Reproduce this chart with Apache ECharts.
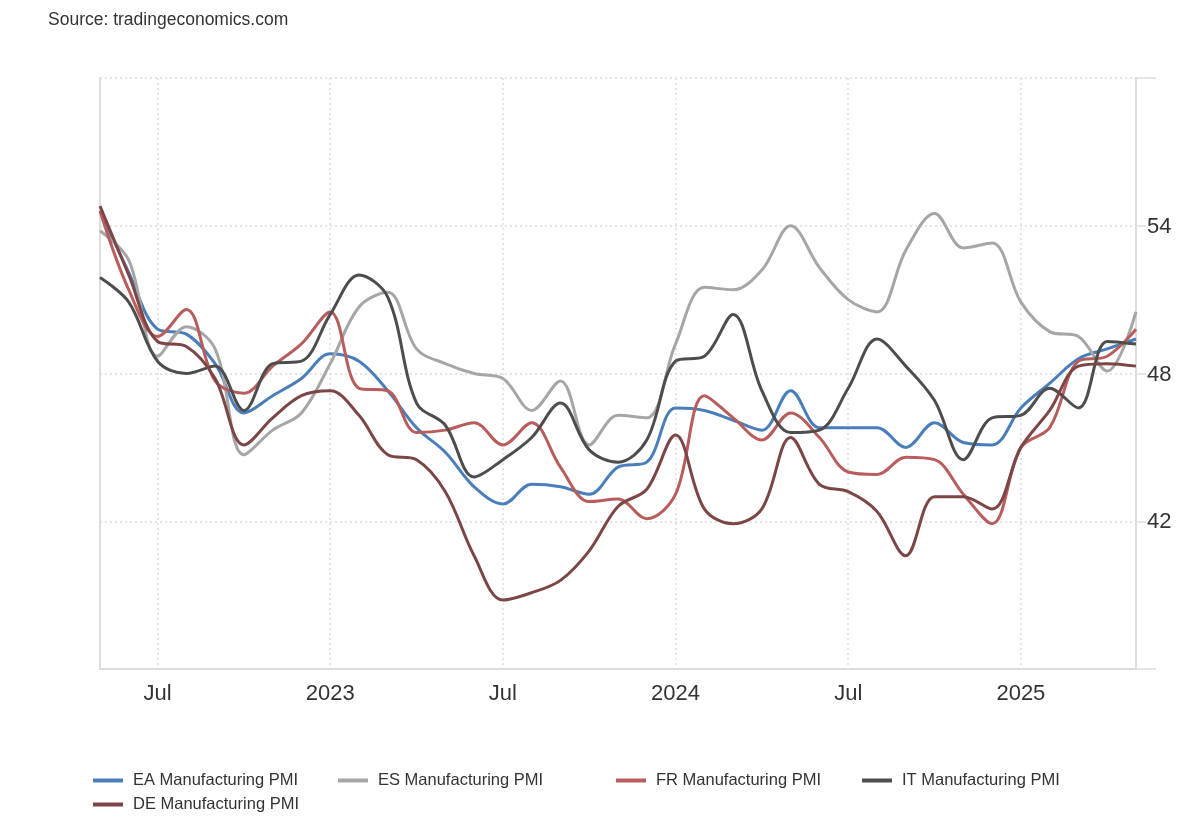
<!DOCTYPE html>
<html>
<head>
<meta charset="utf-8">
<script src="https://cdn.jsdelivr.net/npm/echarts@6/dist/echarts.min.js"></script>
<style>
html,body{margin:0;padding:0;background:#fff;}
#chart{width:1200px;height:820px;}
</style>
</head>
<body>
<div id="chart"></div>
<script>
const months = ['2022-05','2022-06','2022-07','2022-08','2022-09','2022-10','2022-11','2022-12',
'2023-01','2023-02','2023-03','2023-04','2023-05','2023-06','2023-07','2023-08','2023-09','2023-10','2023-11','2023-12',
'2024-01','2024-02','2024-03','2024-04','2024-05','2024-06','2024-07','2024-08','2024-09','2024-10','2024-11','2024-12',
'2025-01','2025-02','2025-03','2025-04','2025-05'];

const eaPMI = [54.6,52.1,49.8,49.6,48.4,46.4,47.1,47.8,48.8,48.5,47.3,45.8,44.8,43.4,42.7,43.5,43.4,43.1,44.2,44.4,46.6,46.5,46.1,45.7,47.3,45.8,45.8,45.8,45.0,46.0,45.2,45.1,46.6,47.6,48.6,49.0,49.4];
const esPMI = [53.8,52.6,48.7,49.9,49.0,44.7,45.7,46.4,48.4,50.7,51.3,49.0,48.4,48.0,47.8,46.5,47.7,45.1,46.3,46.2,49.2,51.5,51.4,52.2,54.0,52.3,51.0,50.5,53.0,54.5,53.1,53.3,50.9,49.7,49.5,48.1,50.5];
const frPMI = [54.6,51.4,49.5,50.6,47.7,47.2,48.3,49.2,50.5,47.4,47.3,45.6,45.7,46.0,45.1,46.0,44.2,42.8,42.9,42.1,43.1,47.1,46.2,45.3,46.4,45.4,44.0,43.9,44.6,44.5,43.1,41.9,45.0,45.8,48.5,48.7,49.8];
const itPMI = [51.9,50.9,48.5,48.0,48.3,46.5,48.4,48.5,50.4,52.0,51.1,46.8,45.9,43.8,44.5,45.4,46.8,44.9,44.4,45.3,48.5,48.7,50.4,47.3,45.6,45.7,47.4,49.4,48.3,46.9,44.5,46.2,46.3,47.4,46.6,49.3,49.2];
const dePMI = [54.8,52.0,49.3,49.1,47.8,45.1,46.2,47.1,47.3,46.3,44.7,44.5,43.2,40.6,38.8,39.1,39.6,40.8,42.6,43.3,45.5,42.5,41.9,42.5,45.4,43.5,43.2,42.4,40.6,43.0,43.0,42.5,45.0,46.5,48.3,48.4,48.3];

const yTicks = [42, 48, 54];

const seriesDefs = [
  {name:'EA Manufacturing PMI', data: eaPMI, color:'#4a7ebb'},
  {name:'ES Manufacturing PMI', data: esPMI, color:'#a6a6a6'},
  {name:'FR Manufacturing PMI', data: frPMI, color:'#b85c5c'},
  {name:'IT Manufacturing PMI', data: itPMI, color:'#4d4d4d'},
  {name:'DE Manufacturing PMI', data: dePMI, color:'#7d4646'}
];
const legendPos = [[88,767],[333,767],[611,767],[857,767],[88,791]];

const chart = echarts.init(document.getElementById('chart'), null, {renderer:'canvas'});
const FONT = '"Liberation Sans", Arial, sans-serif';
const labelIdx = (i) => (i - 2) % 6 === 0;

const option = {
  backgroundColor:'#fff',
  animation:false,
  textStyle:{fontFamily:FONT},
  title:{
    text:'Source: tradingeconomics.com',
    left:43, top:6,
    textStyle:{fontFamily:FONT, fontSize:17.5, fontWeight:'normal', color:'#333'}
  },
  legend: seriesDefs.map((s,i)=>({
    data:[s.name],
    left:legendPos[i][0], top:legendPos[i][1],
    icon:'rect', itemWidth:30, itemHeight:4, itemGap:10,
    textStyle:{fontFamily:FONT, fontSize:16.5, color:'#333', padding:[0,0,0,5]}
  })),
  grid:{left:100, right:64, top:78, bottom:151},
  xAxis:{
    type:'category',
    data:months,
    boundaryGap:false,
    axisLine:{show:true, lineStyle:{color:'#dddddd', width:2}},
    axisTick:{show:false},
    axisLabel:{
      interval: (i)=>labelIdx(i),
      fontFamily:FONT, fontSize:22, color:'#333', margin:14,
      formatter:(v)=>{ const [y,m]=v.split('-'); return m==='01'? y : 'Jul'; }
    },
    splitLine:{show:true, interval:(i)=>labelIdx(i), lineStyle:{color:'#dddddd', type:[2,3], width:1.5}}
  },
  yAxis:[{
    type:'value', position:'right', min:36, max:60, interval:6,
    axisLine:{show:true, lineStyle:{color:'#dddddd', width:2}},
    axisTick:{show:true, length:20, lineStyle:{color:'#dddddd', width:1.5}},
    axisLabel:{
      fontFamily:FONT, fontSize:22, color:'#333', margin:10,
      formatter:(v)=> yTicks.includes(v) ? '{b|' + v + '}' : '',
      rich:{ b:{fontFamily:FONT, fontSize:22, color:'#333', backgroundColor:'#fff', padding:[2,4,0,1]} }
    },
    splitLine:{show:true, lineStyle:{color:'#dddddd', type:[2,3], width:1.5}}
  },{
    type:'value', position:'left', min:36, max:60, interval:6,
    axisLine:{show:true, lineStyle:{color:'#dddddd', width:2}},
    axisTick:{show:false}, axisLabel:{show:false}, splitLine:{show:false}
  }],
  series: seriesDefs.map(s=>({
    name:s.name, type:'line', data:s.data, yAxisIndex:0,
    smooth:0.35, showSymbol:false, symbol:'none',
    color:s.color,
    lineStyle:{color:s.color, width:3}
  }))
};
chart.setOption(option);
</script>
</body>
</html>
